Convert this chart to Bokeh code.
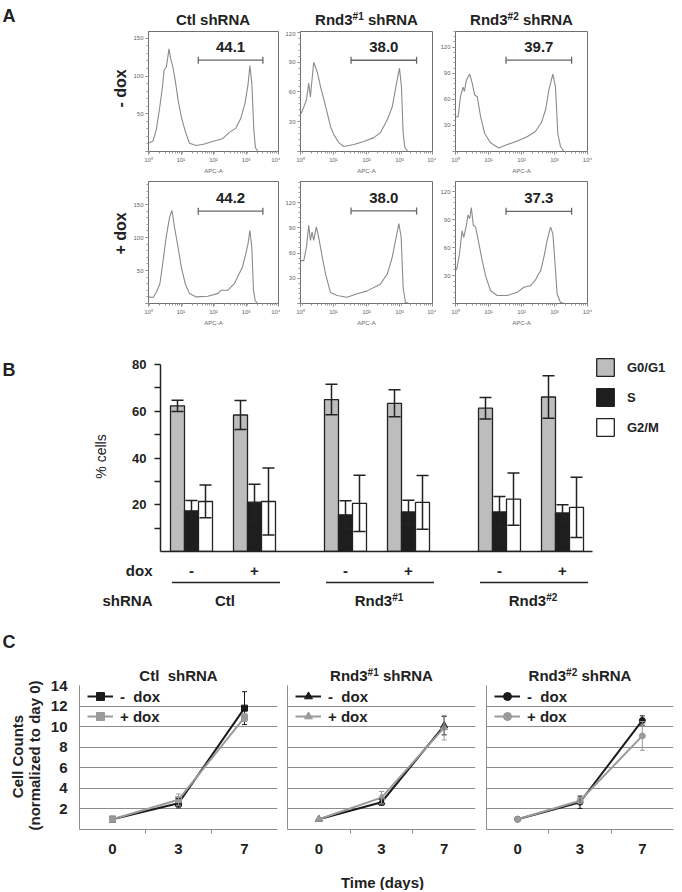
import math
from bokeh.plotting import figure
from bokeh.models import (Range1d, Label, Whisker, TeeHead, ColumnDataSource, FixedTicker,
                          SingleIntervalTicker, LogTicker, CustomJSTickFormatter, Legend,
                          LegendItem)
from bokeh.core.properties import value
from bokeh.layouts import column, row
from bokeh.embed import file_html
from bokeh.resources import INLINE

FONT = "Liberation Sans"
INK = "#222222"

# ---------------- data ----------------
shrna_base = ["Ctl", "Rnd3", "Rnd3"]
shrna_sup = ["", "#1", "#2"]
dox_levels = ["-", "+"]

# Panel A: flow histograms (log10 APC-A position, event count)
h_ctl_m_log = [0.0, 0.14, 0.24, 0.35, 0.43, 0.48, 0.55, 0.63, 0.68, 0.75, 0.82, 0.91, 1.01, 1.13, 1.26, 1.47, 1.72, 2.02, 2.28, 2.48, 2.69, 2.84, 2.97, 3.06, 3.12, 3.18, 3.24, 3.29, 3.37, 4.0]
h_ctl_m_cnt = [11, 14, 29, 60, 86, 108, 112, 136, 123, 112, 95, 68, 46, 27, 11, 8, 10, 14, 17, 25, 31, 44, 64, 88, 114, 90, 29, 5, 0, 0]
h_r1_m_log = [0.0, 0.03, 0.10, 0.18, 0.25, 0.30, 0.40, 0.51, 0.61, 0.71, 0.81, 0.91, 1.01, 1.16, 1.31, 1.62, 1.92, 2.22, 2.42, 2.63, 2.78, 2.91, 3.00, 3.06, 3.11, 3.16, 3.25, 4.0]
h_r1_m_cnt = [38, 39, 45, 52, 69, 55, 90, 80, 65, 52, 39, 25, 17, 9, 5, 7, 10, 14, 19, 32, 45, 69, 84, 65, 19, 4, 0, 0]
h_r2_m_log = [0.0, 0.08, 0.15, 0.23, 0.27, 0.33, 0.43, 0.51, 0.58, 0.66, 0.76, 0.88, 1.06, 1.31, 1.57, 1.87, 2.17, 2.42, 2.60, 2.73, 2.83, 2.95, 3.03, 3.10, 3.18, 3.28, 4.0]
h_r2_m_cnt = [40, 40, 63, 74, 69, 82, 89, 78, 65, 63, 40, 21, 10, 4, 8, 12, 17, 23, 33, 48, 71, 89, 74, 21, 6, 0, 0]
h_ctl_p_log = [0.0, 0.14, 0.24, 0.35, 0.45, 0.55, 0.65, 0.72, 0.80, 0.91, 1.01, 1.13, 1.26, 1.47, 1.82, 2.13, 2.23, 2.43, 2.64, 2.79, 2.89, 2.99, 3.06, 3.12, 3.18, 3.23, 3.28, 3.35, 4.0]
h_ctl_p_cnt = [10, 9, 17, 30, 65, 103, 131, 141, 116, 85, 55, 30, 15, 10, 11, 15, 20, 20, 30, 45, 55, 75, 90, 111, 84, 20, 5, 0, 0]
h_r1_p_log = [0.0, 0.03, 0.10, 0.18, 0.25, 0.30, 0.35, 0.40, 0.48, 0.55, 0.66, 0.76, 0.91, 1.11, 1.41, 1.72, 2.02, 2.42, 2.63, 2.78, 2.88, 2.98, 3.05, 3.11, 3.18, 3.28, 4.0]
h_r1_p_cnt = [51, 51, 51, 67, 93, 75, 85, 75, 91, 79, 55, 35, 13, 9.5, 7.5, 11.5, 15, 23, 35, 55, 75, 95, 79, 19, 1.5, 0, 0]
h_r2_p_log = [0.0, 0.05, 0.12, 0.20, 0.25, 0.33, 0.38, 0.43, 0.48, 0.54, 0.61, 0.71, 0.81, 0.91, 1.06, 1.26, 1.57, 1.87, 2.07, 2.27, 2.42, 2.49, 2.58, 2.68, 2.78, 2.88, 2.95, 3.01, 3.08, 3.18, 3.28, 4.0]
h_r2_p_cnt = [35, 39, 53, 78, 71, 84, 95, 91, 103, 84, 82, 64, 46, 30, 14, 8.6, 8.6, 12, 17.5, 19, 25, 30, 35, 50, 68, 82, 75, 46, 10, 1.4, 0, 0]
hist_ymax = [[159, 121, 138], [185, 145, 131]]
hist_tick = [[50, 30, 30], [50, 30, 30]]
gate_apc = [34, 3300]
gate_level = [[121, 92, 105], [140, 110, 99]]
gate_pct = [["44.1", "38.0", "39.7"], ["44.2", "38.0", "37.3"]]

# Panel B: cell-cycle phases (order: Ctl-, Ctl+, Rnd3#1-, Rnd3#1+, Rnd3#2-, Rnd3#2+)
phases = ["G0/G1", "S", "G2/M"]
g0g1 = [62.3, 58.4, 65.0, 63.4, 61.3, 66.1]
g0g1_err = [2.4, 6.2, 6.5, 5.8, 4.6, 9.1]
s_ph = [17.4, 21.1, 15.7, 16.9, 16.9, 16.5]
s_ph_err = [4.4, 7.7, 6.0, 5.0, 6.6, 3.5]
g2m = [21.4, 21.4, 20.6, 21.0, 22.4, 18.9]
g2m_err = [7.0, 14.3, 12.0, 11.5, 11.2, 12.9]

# Panel C: growth curves
days = ["0", "3", "7"]
ctl_minus = [1.0, 2.55, 11.8]
ctl_minus_err = [0, 0.45, 1.6]
ctl_plus = [1.0, 2.9, 10.9]
ctl_plus_err = [0, 0.55, 0.4]
r1_minus = [1.0, 2.65, 10.1]
r1_minus_err = [0, 0.3, 0.9]
r1_plus = [1.0, 3.1, 9.9]
r1_plus_err = [0, 0.6, 1.2]
r2_minus = [1.0, 2.65, 10.6]
r2_minus_err = [0, 0.6, 0.45]
r2_plus = [1.0, 2.8, 9.1]
r2_plus_err = [0, 0.3, 1.4]

# ---------------- helpers ----------------
BW = {'R': .722, 'n': .611, 'd': .611, '3': .556, ' ': .278, 's': .556, 'h': .611, 'N': .722,
      'A': .722, '#': .556, '1': .556, '2': .556, 'C': .722, 't': .333, 'l': .278}


def tw(s, size):
    return sum(BW.get(c, .6) for c in s) * size


def strip(x0, y0, w, h):
    """A text-only figure whose data coordinates are page pixels (y downward)."""
    p = figure(width=w, height=h, output_backend="svg", toolbar_location=None,
               x_range=Range1d(x0, x0 + w), y_range=Range1d(y0 + h, y0),
               x_axis_location=None, y_axis_location=None,
               min_border_left=0, min_border_right=0, min_border_top=0, min_border_bottom=0)
    p.grid.visible = False
    p.outline_line_color = None
    return p


def txt(p, x, y, text, size, bold=True, align="center", angle=0.0, color=INK):
    p.text(x=[x], y=[y], text=[text], angle=angle, text_font=value(FONT),
           text_font_size=value(f"{size}px"), text_font_style=value("bold" if bold else "normal"),
           text_align=value(align), text_baseline=value("middle"), text_color=color)


def txt_sup(p, cx, cy, base, sup, rest, size, ssize):
    total = tw(base, size) + tw(sup, ssize) + tw(rest, size)
    x = cx - total / 2
    txt(p, x, cy, base, size, align="left")
    x += tw(base, size)
    if sup:
        txt(p, x, cy - 0.36 * (size - ssize) - 1, sup, ssize, align="left")
        x += tw(sup, ssize)
    if rest:
        body = rest.lstrip(" ")
        x += tw(rest[:len(rest) - len(body)], size)
        txt(p, x, cy, body, size, align="left")


def base_fig(w, h, bl, br, bt, bb, **kw):
    p = figure(width=w, height=h, output_backend="svg", toolbar_location=None,
               min_border_left=bl, min_border_right=br, min_border_top=bt, min_border_bottom=bb, **kw)
    p.xgrid.visible = False
    p.ygrid.visible = False
    p.outline_line_color = None
    return p


# ---------------- Panel A ----------------
A_COLS = [(150, 17, 2, 147), (156, 20, 4, 300), (238, 19, 87, 455)]  # width, bl, br, frame-left
A_ROWS = [(145, 0, 24, 31), (154, 5, 27, 176)]  # height, bt, bb, row top
hist_logs = [[h_ctl_m_log, h_r1_m_log, h_r2_m_log], [h_ctl_p_log, h_r1_p_log, h_r2_p_log]]
hist_cnts = [[h_ctl_m_cnt, h_r1_m_cnt, h_r2_m_cnt], [h_ctl_p_cnt, h_r1_p_cnt, h_r2_p_cnt]]

sup_fmt = CustomJSTickFormatter(code="""
const s = ['\\u2070','\\u00b9','\\u00b2','\\u00b3','\\u2074','\\u2075'];
return '10' + s[Math.round(Math.log10(tick))];
""")
nozero_fmt = CustomJSTickFormatter(code="return tick == 0 ? '' : tick.toFixed(0);")

tA = strip(0, 0, 674, 31)
txt(tA, 2, 15, "A", 18, align="left")
for ci, (w, bl, br, fl) in enumerate(A_COLS):
    cx = fl + (w - bl - br) / 2
    txt_sup(tA, cx, 19, shrna_base[ci], shrna_sup[ci], " shRNA", 15, 10)

a_rows = []
for ri, (h, bt, bb, top) in enumerate(A_ROWS):
    side = strip(0, top, 130, h)
    txt(side, 120, 88 if ri == 0 else 233, f"{dox_levels[ri]} dox", 16, angle=math.pi / 2)
    figs = [column(side)]
    for ci, (w, bl, br, fl) in enumerate(A_COLS):
        p = base_fig(w, h, bl, br, bt, bb, x_axis_type="log",
                     x_range=Range1d(1, 1e4), y_range=Range1d(0, hist_ymax[ri][ci]))
        p.outline_line_color = "#707070"
        p.xaxis.ticker = LogTicker(num_minor_ticks=9)
        p.xaxis.formatter = sup_fmt
        p.yaxis.ticker = SingleIntervalTicker(interval=hist_tick[ri][ci], num_minor_ticks=5)
        p.yaxis.formatter = nozero_fmt
        for ax in (p.xaxis[0], p.yaxis[0]):
            ax.axis_line_color = "#707070"
            ax.major_tick_line_color = "#707070"
            ax.minor_tick_line_color = "#9a9a9a"
            ax.major_tick_out = 3
            ax.major_tick_in = 0
            ax.minor_tick_out = 2
            ax.minor_tick_in = 0
            ax.major_label_text_font = FONT
            ax.major_label_text_font_size = "6px"
            ax.major_label_text_color = "#666666"
            ax.major_label_standoff = 2
        p.xaxis.axis_label = "APC-A"
        p.xaxis.axis_label_text_font = FONT
        p.xaxis.axis_label_text_font_size = "6px"
        p.xaxis.axis_label_text_font_style = "normal"
        p.xaxis.axis_label_text_color = "#666666"
        p.xaxis.axis_label_standoff = 2

        xs = [10 ** d for d in hist_logs[ri][ci]]
        p.line(xs, hist_cnts[ri][ci], line_color="#8a8a8a", line_width=1.1)

        gsrc = ColumnDataSource(dict(base=[gate_level[ri][ci]], lower=[gate_apc[0]], upper=[gate_apc[1]]))
        p.add_layout(Whisker(source=gsrc, base="base", lower="lower", upper="upper", dimension="width",
                             line_color="#666666", line_width=1.3,
                             upper_head=TeeHead(size=7, line_color="#666666", line_width=1.3),
                             lower_head=TeeHead(size=7, line_color="#666666", line_width=1.3)))
        p.add_layout(Label(x=math.sqrt(gate_apc[0] * gate_apc[1]), y=gate_level[ri][ci], y_offset=13,
                           text=gate_pct[ri][ci], text_font=FONT, text_font_size="15px",
                           text_font_style="bold", text_align="center", text_baseline="middle",
                           text_color=INK))
        figs.append(p)
    a_rows.append(row(*figs))

# ---------------- Panel B ----------------
B_FL = 160
FIRST, DOX_STEP, SH_STEP, BAR_W = 31, 63, 154, 14
AXIS_SPAN = 432
centers = [FIRST + i * SH_STEP + j * DOX_STEP for i in range(len(shrna_base)) for j in range(len(dox_levels))]
PX_PER_PCT = 187 / 80

tB = strip(0, 330, 120, 225)
txt(tB, 2, 369, "B", 18, align="left")
txt(tB, 100, 456, "% cells", 14, bold=False, angle=math.pi / 2)

pB = base_fig(554, 225, 40, 0, 23, 4, x_range=Range1d(0, 514),
              y_range=Range1d(0, 80 + 11 / PX_PER_PCT))
pB.yaxis.ticker = FixedTicker(ticks=[10, 20, 30, 40, 50, 60, 70, 80])
pB.yaxis.major_label_overrides = {10: "", 30: "", 50: "", 70: ""}
pB.yaxis.bounds = (0, 80)
pB.xaxis.ticker = FixedTicker(ticks=[])
pB.xaxis.bounds = (0, AXIS_SPAN)
for ax in (pB.xaxis[0], pB.yaxis[0]):
    ax.axis_line_color = INK
    ax.axis_line_width = 1.5
    ax.major_tick_line_color = INK
    ax.major_tick_line_width = 1.5
    ax.major_tick_out = 6
    ax.major_tick_in = 0
    ax.minor_tick_line_color = None
    ax.major_label_text_font = FONT
    ax.major_label_text_font_size = "13px"
    ax.major_label_text_font_style = "bold"
    ax.major_label_text_color = INK
    ax.major_label_standoff = 8

phase_vals = [g0g1, s_ph, g2m]
phase_errs = [g0g1_err, s_ph_err, g2m_err]
phase_fill = ["#bdbdbd", "#1e1e1e", "#ffffff"]
items = []
for k in range(3):
    off = (k - 1) * BAR_W
    xs = [c + off for c in centers]
    r = pB.vbar(x=xs, top=phase_vals[k], bottom=0, width=BAR_W, fill_color=phase_fill[k],
                line_color=INK, line_width=1.3)
    items.append(LegendItem(label=phases[k], renderers=[r]))
    src = ColumnDataSource(dict(x=xs, lo=[v - e for v, e in zip(phase_vals[k], phase_errs[k])],
                                hi=[v + e for v, e in zip(phase_vals[k], phase_errs[k])]))
    pB.add_layout(Whisker(source=src, base="x", lower="lo", upper="hi", level="overlay",
                          line_color=INK, line_width=1.5,
                          upper_head=TeeHead(size=12, line_color=INK, line_width=1.5),
                          lower_head=TeeHead(size=12, line_color=INK, line_width=1.5)))

legB = Legend(items=items, location=(AXIS_SPAN + 2, 113), orientation="vertical",
              glyph_width=22, glyph_height=22, label_height=22, spacing=8, padding=0, margin=0,
              label_standoff=11, border_line_color=None, background_fill_alpha=0,
              label_text_font=FONT, label_text_font_size="13px", label_text_font_style="bold",
              label_text_color=INK)
pB.add_layout(legB)

bB = strip(0, 555, 674, 65)
txt(bB, 152, 570, "dox", 15, align="right")
txt(bB, 152, 600, "shRNA", 15, align="right")
for i in range(len(shrna_base)):
    for j in range(len(dox_levels)):
        txt(bB, B_FL + centers[i * 2 + j], 570, dox_levels[j], 15)
    pc = B_FL + FIRST + i * SH_STEP + DOX_STEP / 2
    bB.segment(x0=[pc - 51], x1=[pc + 57], y0=[582], y1=[582], line_color=INK, line_width=1.5)
    txt_sup(bB, pc + 2, 600, shrna_base[i], shrna_sup[i], "", 15, 10)

# ---------------- Panel C ----------------
C_COLS = [(237, 34, 5, 79), (199, 5, 6, 287), (193, 5, 1, 486)]
C_TOP = 620
C_FRAME_TOP = 685
C_FRAME_H = 144
C_BB = 30
C_BT_SMALL = 2
series_m = [ctl_minus, r1_minus, r2_minus]
series_m_err = [ctl_minus_err, r1_minus_err, r2_minus_err]
series_p = [ctl_plus, r1_plus, r2_plus]
series_p_err = [ctl_plus_err, r1_plus_err, r2_plus_err]
markers = ["square", "triangle", "circle"]
msize = [6, 7, 6]
BLACK, GRAY = "#1a1a1a", "#9a9a9a"
xc = [i + 0.5 for i in range(len(days))]
grid_ticks = [2, 4, 6, 8, 10, 12, 14]
day_fmt = CustomJSTickFormatter(args=dict(days=days), code="return days[Math.floor(tick)];")

sC = strip(0, C_TOP, 45, 239)
txt(sC, 2, 641, "C", 18, align="left")
txt(sC, 17, 756, "Cell Counts", 15, angle=math.pi / 2)
txt(sC, 34, 755, "(normalized to day 0)", 15, angle=math.pi / 2)

t_h = C_FRAME_TOP - C_BT_SMALL - C_TOP
tC = strip(282, C_TOP, 392, t_h)
for ci in (1, 2):
    w, bl, br, fl = C_COLS[ci]
    cx = fl + (w - bl - br) / 2
    txt_sup(tC, cx, 675, shrna_base[ci], shrna_sup[ci], " shRNA", 15, 10)

c_figs = []
for ci, (w, bl, br, fl) in enumerate(C_COLS):
    bt = (C_FRAME_TOP - C_TOP) if ci == 0 else C_BT_SMALL
    p = base_fig(w, bt + C_FRAME_H + C_BB, bl, br, bt, C_BB,
                 x_range=Range1d(0, 3), y_range=Range1d(0, 14))
    if ci == 0:
        p.title.text = "Ctl\u00a0 shRNA"
        p.title.align = "center"
        p.title.text_font = FONT
        p.title.text_font_size = "15px"
        p.title.text_font_style = "bold"
        p.title.text_color = INK
        p.title.standoff = 3
    p.ygrid.visible = True
    p.ygrid.ticker = FixedTicker(ticks=grid_ticks)
    p.ygrid.grid_line_color = "#8c8c8c"
    p.ygrid.grid_line_width = 1
    p.yaxis.ticker = FixedTicker(ticks=grid_ticks if ci == 0 else [])
    p.xaxis.ticker = FixedTicker(ticks=xc, minor_ticks=[1, 2])
    p.xaxis.formatter = day_fmt
    for ax in (p.xaxis[0], p.yaxis[0]):
        ax.axis_line_color = "#8c8c8c"
        ax.major_tick_line_color = None
        ax.major_tick_out = 0
        ax.major_tick_in = 0
        ax.minor_tick_line_color = "#8c8c8c"
        ax.minor_tick_out = 4
        ax.minor_tick_in = 0
        ax.major_label_text_font = FONT
        ax.major_label_text_font_size = "15px"
        ax.major_label_text_font_style = "bold"
        ax.major_label_text_color = INK
    p.xaxis.major_label_standoff = 10
    p.yaxis.major_label_standoff = 12
    p.yaxis.minor_tick_line_color = None

    for vals, errs, col, lab in ((series_m[ci], series_m_err[ci], BLACK, "-\u00a0 dox"),
                                 (series_p[ci], series_p_err[ci], GRAY, "+ dox")):
        p.line(xc, vals, line_color=col, line_width=2, legend_label=lab)
        p.scatter(xc, vals, marker=markers[ci], size=msize[ci], fill_color=col, line_color=col,
                  legend_label=lab)
        keep = [i for i, e in enumerate(errs) if e > 0]
        src = ColumnDataSource(dict(x=[xc[i] for i in keep],
                                    lo=[vals[i] - errs[i] for i in keep],
                                    hi=[vals[i] + errs[i] for i in keep]))
        p.add_layout(Whisker(source=src, base="x", lower="lo", upper="hi", level="overlay",
                             line_color=col, line_width=1,
                             upper_head=TeeHead(size=5, line_color=col, line_width=1),
                             lower_head=TeeHead(size=5, line_color=col, line_width=1)))
    lg = p.legend[0]
    lg.location = (8, 103)
    lg.glyph_width = 26
    lg.glyph_height = 20
    lg.label_height = 20
    lg.spacing = 0
    lg.padding = 0
    lg.margin = 0
    lg.label_standoff = 7
    lg.border_line_color = None
    lg.background_fill_alpha = 0
    lg.label_text_font = FONT
    lg.label_text_font_size = "15px"
    lg.label_text_font_style = "bold"
    lg.label_text_color = INK
    c_figs.append(p)

bC = strip(0, 859, 674, 31)
txt(bC, 382, 882, "Time (days)", 15)

# nested columns keep each text strip's frame independent of its neighbours
panel_b = row(column(tB), column(pB))
panel_c = row(column(sC), column(c_figs[0]), column(tC, row(c_figs[1], c_figs[2])))
layout = column(tA, a_rows[0], a_rows[1], panel_b, bB, panel_c, bC)
open("out.html", "w", encoding="utf-8").write(file_html(layout, INLINE))
